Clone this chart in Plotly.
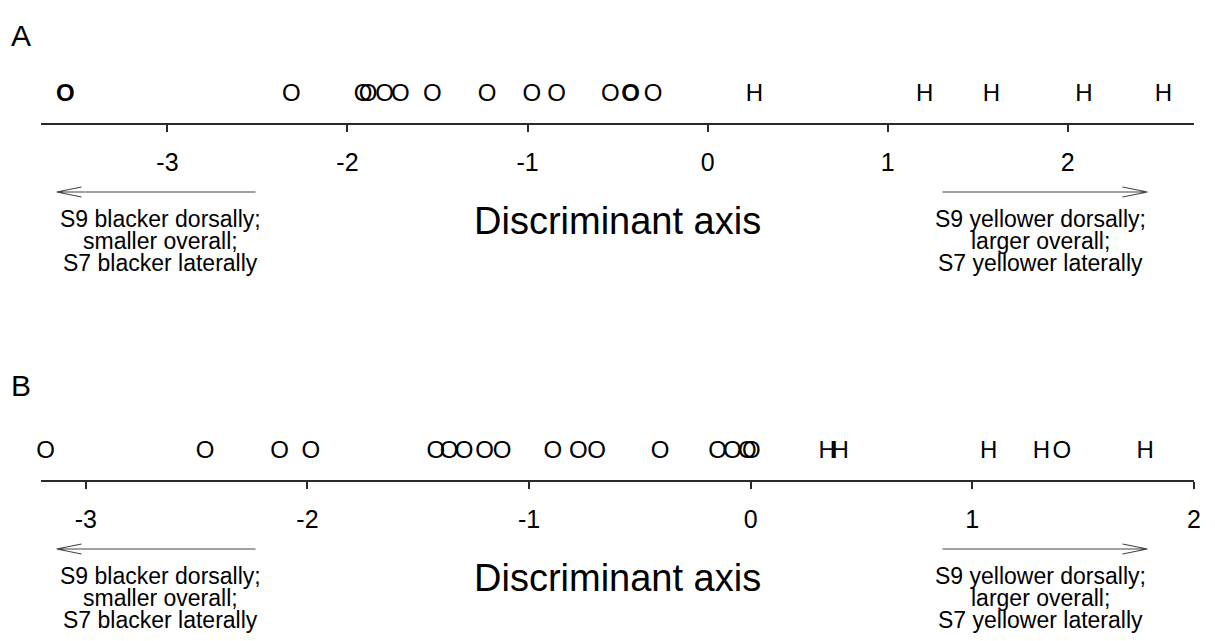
import plotly.graph_objects as go
from collections import Counter

# ---------------- data ----------------
# Panel A: discriminant scores
a_O = [-3.567, -3.567, -2.312, -1.913, -1.885, -1.794, -1.706, -1.529,
       -1.225, -0.976, -0.838, -0.540, -0.427, -0.427, -0.302]
a_H = [0.260, 1.206, 1.576, 2.090, 2.532]
# Panel B: discriminant scores
b_O = [-3.182, -2.462, -2.126, -1.984, -1.421, -1.361, -1.293, -1.201, -1.122,
       -0.892, -0.778, -0.695, -0.409, -0.149, -0.082, -0.015, 0.003, 1.404]
b_H = [0.345, 0.404, 1.074, 1.312, 1.780]

tick_vals = [-3, -2, -1, 0, 1, 2]
tick_text = ["-3", "-2", "-1", "0", "1", "2"]
a_range = [-3.7034, 2.7018]
b_range = [-3.2032, 2.0009]

left_text = ["S9 blacker dorsally;", "smaller overall;", "S7 blacker laterally"]
right_text = ["S9 yellower dorsally;", "larger overall;", "S7 yellower laterally"]
axis_title = "Discriminant axis"

FONT = "Liberation Sans, Arial, sans-serif"
W, H = 1215, 641

fig = go.Figure()


def add_points(values, label, xa, ya):
    cnt = Counter(values)
    single = [v for v in cnt if cnt[v] == 1]
    multi = [v for v in cnt if cnt[v] > 1]
    if single:
        fig.add_trace(go.Scatter(
            x=single, y=[0.45] * len(single), mode="text", text=[label] * len(single),
            textposition="middle center", xaxis=xa, yaxis=ya, showlegend=False,
            hoverinfo="x", cliponaxis=False,
            textfont=dict(family=FONT, size=24, color="black")))
    if multi:
        fig.add_trace(go.Scatter(
            x=multi, y=[0.45] * len(multi), mode="text", text=[label] * len(multi),
            textposition="middle center", xaxis=xa, yaxis=ya, showlegend=False,
            hoverinfo="x", cliponaxis=False,
            textfont=dict(family=FONT, size=24, color="black", weight="bold")))


add_points(a_O, "O", "x", "y")
add_points(a_H, "H", "x", "y")
add_points(b_O, "O", "x2", "y2")
add_points(b_H, "H", "x2", "y2")


def py(p):
    """pixel y -> paper y"""
    return 1 - p / H


def px(p):
    return p / W


xdom = [px(41), px(1201)]


def axis_cfg(rng, anchor):
    return dict(
        range=rng, anchor=anchor,
        domain=xdom, showline=True, linecolor="#2a2a2a", linewidth=2,
        ticks="outside", ticklen=7, tickwidth=1.5, tickcolor="#2a2a2a",
        tickmode="array", tickvals=tick_vals, ticktext=tick_text,
        showgrid=False, zeroline=False,
        tickfont=dict(family=FONT, size=25, color="black"),
        ticklabelstandoff=9,
    )


fig.update_layout(
    width=W, height=H,
    margin=dict(l=0, r=0, t=0, b=0, pad=0),
    paper_bgcolor="white", plot_bgcolor="white",
    xaxis=axis_cfg(a_range, "y"),
    yaxis=dict(domain=[py(123), py(60)], range=[0, 1], visible=False),
    xaxis2=axis_cfg(b_range, "y2"),
    yaxis2=dict(domain=[py(480), py(417)], range=[0, 1], visible=False),
)

annotations = []
shapes = []


def add_panel_decor(letter, letter_y, arrow_y, title_y):
    annotations.append(dict(
        text=letter, x=px(21), y=py(letter_y), xref="paper", yref="paper",
        showarrow=False, xanchor="center", yanchor="middle",
        font=dict(family=FONT, size=30, color="black")))
    annotations.append(dict(
        text=axis_title, x=px(621.5), y=py(title_y), xref="paper", yref="paper",
        showarrow=False, xanchor="center", yanchor="middle",
        font=dict(family=FONT, size=38, color="black")))
    for i, (lt, rt) in enumerate(zip(left_text, right_text)):
        ly = arrow_y + 27 + 22 * i
        annotations.append(dict(
            text=lt, x=px(161), y=py(ly), xref="paper", yref="paper",
            showarrow=False, xanchor="center", yanchor="middle",
            font=dict(family=FONT, size=23, color="black")))
        annotations.append(dict(
            text=rt, x=px(1047), y=py(ly), xref="paper", yref="paper",
            showarrow=False, xanchor="center", yanchor="middle",
            font=dict(family=FONT, size=23, color="black")))
    # left arrow (tip at left)
    x1, x2 = 57, 257
    path = (f"M {px(x2)},{py(arrow_y)} L {px(x1)},{py(arrow_y)} "
            f"M {px(x1 + 25)},{py(arrow_y - 5)} L {px(x1)},{py(arrow_y)} "
            f"L {px(x1 + 25)},{py(arrow_y + 5)}")
    shapes.append(dict(type="path", path=path, xref="paper", yref="paper",
                       line=dict(color="#444444", width=1.2)))
    # right arrow (tip at right)
    x1, x2 = 948, 1154
    path = (f"M {px(x1)},{py(arrow_y)} L {px(x2)},{py(arrow_y)} "
            f"M {px(x2 - 25)},{py(arrow_y - 5)} L {px(x2)},{py(arrow_y)} "
            f"L {px(x2 - 25)},{py(arrow_y + 5)}")
    shapes.append(dict(type="path", path=path, xref="paper", yref="paper",
                       line=dict(color="#444444", width=1.2)))


add_panel_decor("A", 36, 192, 221)
add_panel_decor("B", 385, 549, 578)

fig.update_layout(annotations=annotations, shapes=shapes)

fig.write_html("out.html")
